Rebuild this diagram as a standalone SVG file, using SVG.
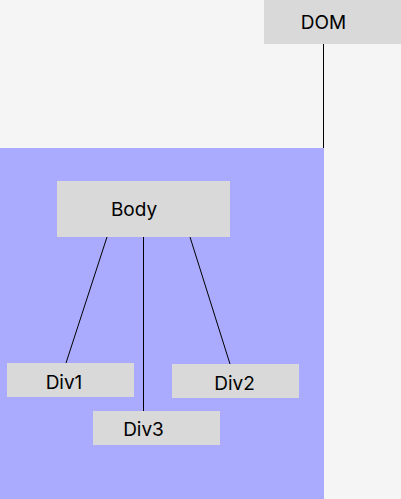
<svg xmlns="http://www.w3.org/2000/svg" width="401" height="499" viewBox="0 0 401 499">
<style>
.box{fill:#d9d9d9}
.lbl{font-family:Inter,"Liberation Sans",sans-serif;font-size:19px;fill:#000;text-anchor:middle}
.edge{stroke:#000;stroke-width:1;fill:none}
</style>
<rect x="0" y="0" width="401" height="499" fill="#f5f5f5"/>
<rect id="container" x="0" y="148" width="324" height="351" fill="#aaaaff"/>
<g id="connectors">
<line class="edge" x1="323.5" y1="44" x2="323.5" y2="148"/>
<line class="edge" x1="107" y1="237" x2="66" y2="363"/>
<line class="edge" x1="143.5" y1="237" x2="143.5" y2="411"/>
<line class="edge" x1="190" y1="237" x2="230" y2="364"/>
</g>
<g id="dom"><rect class="box" x="264" y="0" width="137" height="44"/><text class="lbl" x="323.5" y="29">DOM</text></g>
<g id="body"><rect class="box" x="57" y="181" width="173" height="56"/><text class="lbl" x="134" y="216">Body</text></g>
<g id="div1"><rect class="box" x="7" y="363" width="127" height="34"/><text class="lbl" x="64" y="389">Div1</text></g>
<g id="div2"><rect class="box" x="172" y="364" width="127" height="34"/><text class="lbl" x="234.5" y="390">Div2</text></g>
<g id="div3"><rect class="box" x="93" y="411" width="127" height="34"/><text class="lbl" x="143.5" y="436">Div3</text></g>
</svg>
